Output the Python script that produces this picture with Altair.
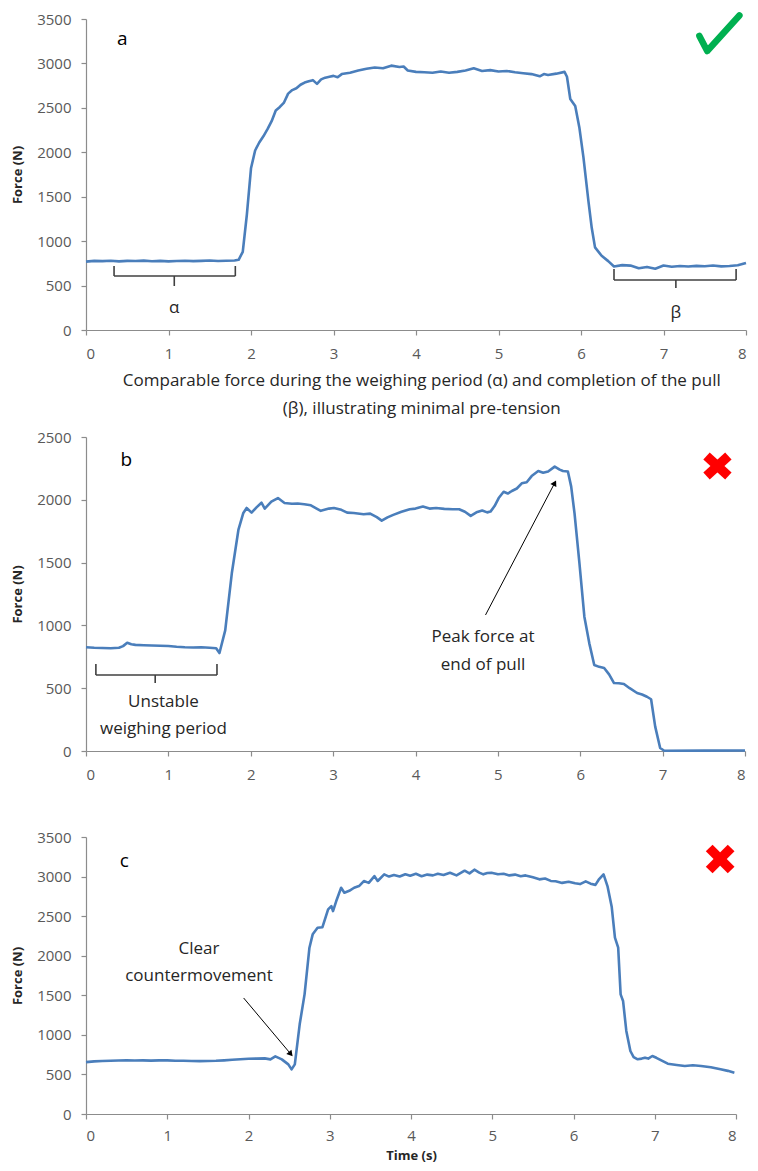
import math
import altair as alt
import pandas as pd

# ---------------- data ----------------
a_time = [0.0, 0.1, 0.2, 0.3, 0.4, 0.5, 0.6, 0.7, 0.8, 0.9, 1.0, 1.1, 1.2, 1.3, 1.4, 1.5, 1.6, 1.7, 1.8,
          1.85, 1.9, 1.95, 2.0, 2.05, 2.1, 2.15, 2.2, 2.25, 2.3, 2.35, 2.4, 2.45, 2.5, 2.55, 2.6, 2.65,
          2.7, 2.75, 2.8, 2.85, 2.9, 2.95, 3.0, 3.05, 3.1, 3.2, 3.3, 3.4, 3.5, 3.6, 3.7, 3.8, 3.85, 3.9,
          4.0, 4.1, 4.2, 4.3, 4.4, 4.5, 4.6, 4.7, 4.8, 4.9, 5.0, 5.1, 5.2, 5.3, 5.4, 5.5, 5.55, 5.6, 5.7,
          5.8, 5.83, 5.87, 5.93, 5.98, 6.03, 6.09, 6.13, 6.17, 6.25, 6.33, 6.4, 6.5, 6.6, 6.7, 6.8, 6.9,
          7.0, 7.1, 7.2, 7.3, 7.4, 7.5, 7.6, 7.7, 7.8, 7.9, 8.0]
a_force = [770, 778, 775, 780, 772, 778, 776, 781, 774, 778, 772, 777, 780, 775, 778, 782, 776, 780, 783,
           790, 880, 1300, 1820, 2020, 2110, 2180, 2260, 2350, 2470, 2510, 2560, 2660, 2700, 2720, 2760, 2785,
           2800, 2812, 2770, 2820, 2840, 2850, 2860, 2845, 2880, 2895, 2920, 2940, 2955, 2945, 2975, 2960, 2965, 2920,
           2905, 2900, 2895, 2910, 2895, 2905, 2920, 2945, 2915, 2925, 2910, 2915, 2900, 2890, 2880, 2855, 2880, 2870, 2885,
           2905, 2850, 2600, 2520, 2280, 1940, 1450, 1150, 930, 835, 775, 715, 730, 725, 695, 710, 690,
           725, 712, 720, 715, 722, 718, 726, 716, 720, 728, 755]

b_time = [0.0, 0.1, 0.2, 0.3, 0.4, 0.45, 0.5, 0.55, 0.6, 0.7, 0.8, 0.9, 1.0, 1.1, 1.2, 1.3, 1.4, 1.5, 1.58,
          1.62, 1.69, 1.77, 1.85, 1.91, 1.95, 2.01, 2.07, 2.13, 2.17, 2.25, 2.33, 2.41, 2.5, 2.57, 2.65, 2.73,
          2.8, 2.85, 2.95, 3.01, 3.1, 3.17, 3.25, 3.37, 3.45, 3.53, 3.59, 3.66, 3.73, 3.83, 3.93, 4.0, 4.09,
          4.17, 4.25, 4.35, 4.45, 4.53, 4.6, 4.67, 4.74, 4.81, 4.87, 4.91, 4.96, 5.01, 5.07, 5.12, 5.17, 5.23,
          5.29, 5.35, 5.41, 5.49, 5.55, 5.61, 5.69, 5.75, 5.79, 5.85, 5.89, 5.93, 5.99, 6.05, 6.11, 6.17, 6.23,
          6.29, 6.35, 6.41, 6.47, 6.53, 6.6, 6.69, 6.75, 6.81, 6.86, 6.91, 6.97, 7.02, 7.5, 8.0]
b_force = [826, 822, 820, 818, 822, 835, 862, 850, 845, 842, 840, 838, 836, 830, 826, 824, 826, 822, 818,
           780, 960, 1415, 1760, 1895, 1935, 1898, 1940, 1977, 1930, 1985, 2014, 1975, 1968, 1970, 1965, 1956,
           1930, 1912, 1930, 1935, 1920, 1898, 1895, 1885, 1890, 1862, 1834, 1860, 1880, 1905, 1925, 1930, 1946,
           1930, 1935, 1928, 1925, 1925, 1905, 1872, 1900, 1915, 1900, 1906, 1950, 2014, 2064, 2050, 2070, 2090,
           2131, 2140, 2189, 2229, 2215, 2225, 2264, 2240, 2229, 2225, 2105, 1895, 1495, 1069, 857, 685, 670,
           661, 610, 541, 540, 534, 500, 462, 450, 432, 412, 194, 24, 2, 3, 4]

c_time = [0.0, 0.1, 0.2, 0.3, 0.4, 0.5, 0.6, 0.7, 0.8, 0.9, 1.0, 1.1, 1.2, 1.3, 1.4, 1.5, 1.6, 1.7, 1.8,
          1.9, 2.0, 2.1, 2.2, 2.27, 2.33, 2.41, 2.49, 2.53, 2.57, 2.63, 2.69, 2.75, 2.79, 2.85, 2.91, 2.98,
          3.02, 3.04, 3.08, 3.14, 3.18, 3.24, 3.30, 3.36, 3.42, 3.48, 3.55, 3.59, 3.67, 3.73, 3.79, 3.86,
          3.93, 3.99, 4.06, 4.13, 4.20, 4.27, 4.33, 4.40, 4.48, 4.56, 4.66, 4.72, 4.78, 4.84, 4.89, 4.94,
          4.99, 5.07, 5.14, 5.21, 5.28, 5.35, 5.41, 5.50, 5.58, 5.65, 5.72, 5.78, 5.86, 5.94, 6.02, 6.08,
          6.15, 6.21, 6.27, 6.31, 6.37, 6.42, 6.47, 6.51, 6.55, 6.58, 6.61, 6.65, 6.70, 6.74, 6.79, 6.84,
          6.88, 6.92, 6.97, 7.02, 7.16, 7.27, 7.37, 7.47, 7.57, 7.69, 7.81, 7.9, 7.98]
c_force = [655, 665, 670, 672, 676, 680, 676, 678, 674, 677, 677, 673, 672, 670, 668, 669, 672, 678, 685,
           692, 699, 700, 703, 690, 728, 690, 627, 564, 627, 1133, 1512, 2101, 2270, 2354, 2360, 2585,
           2627, 2564, 2691, 2859, 2796, 2820, 2859, 2880, 2943, 2920, 3006, 2944, 3028, 3000, 3020, 3000,
           3030, 3010, 3035, 3005, 3025, 3015, 3035, 3020, 3049, 3015, 3074, 3040, 3087, 3050, 3028, 3045,
           3049, 3030, 3035, 3015, 3025, 3005, 3015, 2990, 2965, 2975, 2945, 2940, 2920, 2935, 2915, 2905,
           2940, 2910, 2895, 2960, 3028, 2872, 2619, 2228, 2101, 1512, 1428, 1049, 796, 720, 691, 700,
           712, 700, 733, 710, 636, 620, 607, 615, 607, 590, 565, 545, 522]

x_ticks = [0, 1, 2, 3, 4, 5, 6, 7, 8]
y_ticks_ac = [0, 500, 1000, 1500, 2000, 2500, 3000, 3500]
y_ticks_b = [0, 500, 1000, 1500, 2000, 2500]

# panel letters: x, y
letters = ["a", "b", "c"]
letter_x = [0.44, 0.49, 0.47]
letter_y = [3275, 2317, 3197]

# brackets: x_left, x_right, x_mid, y_bar, y_end, y_tip
bracket_alpha = [0.34, 1.81, 1.07, 608, 720, 495]
bracket_beta = [6.40, 7.88, 7.15, 562, 686, 472]
bracket_b = [0.12, 1.59, 0.84, 605, 693, 541]

# text annotations (panel a caption placed below the axis, in data units)
a_text = ["α", "β",
          "Comparable force during the weighing period (α) and completion of the pull",
          "(β), illustrating minimal pre-tension"]
a_text_x = [1.07, 7.15, 4.07, 4.07]
a_text_y = [248, 191, -574, -889]
b_text = ["Unstable", "weighing period", "Peak force at", "end of pull"]
b_text_x = [0.94, 0.94, 4.82, 4.82]
b_text_y = [390, 175, 908, 685]
c_text = ["Clear", "countermovement"]
c_text_x = [1.39, 1.39]
c_text_y = [2085, 1744]

# arrows: x_start, y_start, x_end, y_end
arrow_b = [4.85, 1083, 5.69, 2134]
arrow_c = [1.94, 1466, 2.52, 758]

# status icons: green tick (polyline) in a, red crosses in b and c (x_left, x_right, y_low, y_high)
tick_x = [7.435, 7.53, 7.92]
tick_y = [3309, 3140, 3540]
cross_b = [7.533, 7.798, 2190, 2349]
cross_c = [7.67, 7.94, 3083, 3361]

LINE = "#4A7EBB"
FONT = "Open Sans"
TXT = 17


def panel(t, f, w, h, ymax, yvals, xaxis, brackets, texts, arrow, letter, tick=None, cross=None):
    xs = alt.Scale(domain=[0, 8], nice=False)
    ys = alt.Scale(domain=[0, ymax], nice=False)
    yaxis = alt.Axis(values=yvals, format="d", labelFontSize=15, labelPadding=10, tickSize=5,
                     labelOverlap=False, titlePadding=12, titleFontSize=13, titleFontWeight="bold")

    def X(field):
        return alt.X(field, scale=xs, axis=xaxis)

    def Y(field):
        return alt.Y(field, scale=ys, title="Force (N)", axis=yaxis)

    df = pd.DataFrame({"t": t, "f": f})
    line = alt.Chart(df).mark_line(color=LINE, strokeWidth=2.6, strokeJoin="round").encode(
        x=X("t:Q"), y=Y("f:Q"))
    layers = [line]
    # brackets
    segs = []
    for (xl, xr, xm, yb, ye, yt) in brackets:
        segs += [(xl, xr, yb, yb), (xl, xl, yb, ye), (xr, xr, yb, ye), (xm, xm, yb, yt)]
    if segs:
        sdf = pd.DataFrame(segs, columns=["x", "x2", "y", "y2"])
        layers.append(alt.Chart(sdf).mark_rule(color="#404040", strokeWidth=1.6, strokeJoin="round").encode(
            x=X("x:Q"), x2="x2:Q", y=Y("y:Q"), y2="y2:Q"))
    # texts
    tx, ty, tt = texts
    if tt:
        tdf = pd.DataFrame({"x": tx, "y": ty, "s": tt})
        layers.append(alt.Chart(tdf).mark_text(font=FONT, fontSize=TXT, color="#262626").encode(
            x=X("x:Q"), y=Y("y:Q"), text="s:N"))
    # arrow
    if arrow:
        x0, y0, x1, y1 = arrow
        adf = pd.DataFrame({"x": [x0], "y": [y0], "x2": [x1], "y2": [y1]})
        layers.append(alt.Chart(adf).mark_rule(color="#000000", strokeWidth=1, strokeJoin="round").encode(
            x=X("x:Q"), x2="x2:Q", y=Y("y:Q"), y2="y2:Q"))
        dxp = (x1 - x0) / 8 * w
        dyp = -(y1 - y0) / ymax * h
        ang = math.degrees(math.atan2(dxp, -dyp)) % 360
        hdf = pd.DataFrame({"x": [x1], "y": [y1]})
        layers.append(alt.Chart(hdf).mark_point(shape="triangle-up", filled=True, color="#000000",
                                                 opacity=1, size=45, angle=ang).encode(
            x=X("x:Q"), y=Y("y:Q")))
    # letter
    lname, lx, ly = letter
    ldf = pd.DataFrame({"x": [lx], "y": [ly], "s": [lname]})
    layers.append(alt.Chart(ldf).mark_text(font=FONT, fontSize=19, color="#000000").encode(
        x=X("x:Q"), y=Y("y:Q"), text="s:N"))
    # icons
    if tick:
        kdf = pd.DataFrame({"x": tick[0], "y": tick[1], "o": list(range(len(tick[0])))})
        layers.append(alt.Chart(kdf).mark_line(color="#00B050", strokeWidth=6.5, strokeCap="round",
                                               strokeJoin="round").encode(
            x=X("x:Q"), y=Y("y:Q"), order="o:O"))
    if cross:
        xl, xr, yl, yh = cross
        cdf = pd.DataFrame({"x": [xl, xl], "x2": [xr, xr], "y": [yl, yh], "y2": [yh, yl]})
        layers.append(alt.Chart(cdf).mark_rule(color="#FF0000", strokeWidth=9.5, strokeCap="butt",
                                               strokeJoin="round").encode(
            x=X("x:Q"), x2="x2:Q", y=Y("y:Q"), y2="y2:Q"))
    return alt.layer(*layers).properties(width=w, height=h)


xaxis_a = alt.Axis(values=x_ticks, format="d", labelFontSize=15, labelPadding=11, tickSize=5, title=None)
xaxis_b = alt.Axis(values=x_ticks, format="d", labelFontSize=15, labelPadding=11, tickSize=5, title=None)
xaxis_c = alt.Axis(values=x_ticks, format="d", labelFontSize=15, labelPadding=9, tickSize=5, title="Time (s)",
                   titleFontWeight="bold", titleFontSize=13, titlePadding=6)

pa = panel(a_time, a_force, 660, 311, 3500, y_ticks_ac, xaxis_a, [bracket_alpha, bracket_beta],
           (a_text_x, a_text_y, a_text), None, (letters[0], letter_x[0], letter_y[0]),
           tick=(tick_x, tick_y))
pb = panel(b_time, b_force, 659, 314, 2500, y_ticks_b, xaxis_b, [bracket_b],
           (b_text_x, b_text_y, b_text), arrow_b, (letters[1], letter_x[1], letter_y[1]),
           cross=cross_b)
pc = panel(c_time, c_force, 650, 277, 3500, y_ticks_ac, xaxis_c, [],
           (c_text_x, c_text_y, c_text), arrow_c, (letters[2], letter_x[2], letter_y[2]),
           cross=cross_c)

top = alt.vconcat(pa, pb, spacing=13).resolve_scale(x="independent", y="independent")
chart = alt.vconcat(top, pc, spacing=48).resolve_scale(x="independent", y="independent").properties(
    padding={"left": 3, "top": 4, "right": 0, "bottom": 0}, background="white"
).configure_view(stroke=None).configure_axis(
    grid=False, labelFont=FONT, labelColor="#595959", domainColor="#8c8c8c", tickColor="#8c8c8c",
    titleFont=FONT, titleColor="#262626", domainWidth=1.2, tickWidth=1.2
)

chart.save("out.html", embed_options={"renderer": "svg", "actions": False})
